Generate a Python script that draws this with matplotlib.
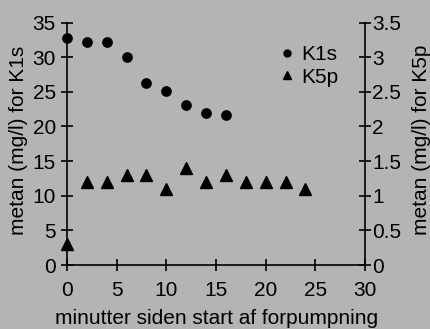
import numpy as np
import matplotlib
matplotlib.use("Agg")
import matplotlib.pyplot as plt
from matplotlib.lines import Line2D

plt.rcParams['font.family'] = ['Liberation Sans', 'DejaVu Sans']

# data
k1s_x = [0, 2, 4, 6, 8, 10, 12, 14, 16]
k1s_y = [32.8, 32.2, 32.2, 30.0, 26.3, 25.1, 23.1, 22.0, 21.7]
k5p_x = [0, 2, 4, 6, 8, 10, 12, 14, 16, 18, 20, 22, 24]
k5p_y = [0.3, 1.2, 1.2, 1.3, 1.3, 1.1, 1.4, 1.2, 1.3, 1.2, 1.2, 1.2, 1.1]

bg = '#b4b4b4'
fs = 15

fig = plt.figure(figsize=(4.3, 3.29), dpi=100, facecolor=bg)
ax = fig.add_axes([0.1558, 0.1945, 0.693, 0.737])
ax.set_facecolor(bg)
ax2 = ax.twinx()

ax.plot(k1s_x, k1s_y, 'o', color='black', markersize=6.7, clip_on=False)
ax2.plot(k5p_x, k5p_y, '^', color='black', markersize=8.2, clip_on=False)

ax.set_xlim(0, 30)
ax.set_ylim(0, 35)
ax2.set_ylim(0, 3.5)
ax.set_xticks(np.arange(0, 31, 5))
ax.set_yticks(np.arange(0, 36, 5))
ax2.set_yticks(np.arange(0, 3.6, 0.5))
ax2.set_yticklabels(['0', '0.5', '1', '1.5', '2', '2.5', '3', '3.5'])

for a in (ax, ax2):
    a.spines['top'].set_visible(False)
    for s in a.spines.values():
        s.set_linewidth(1.2)
ax.spines['right'].set_visible(False)
ax2.spines['left'].set_visible(False)
ax2.spines['bottom'].set_visible(False)

ax.tick_params(axis='x', direction='inout', length=8.6, width=1.2, labelsize=fs, pad=7.5)
ax.tick_params(axis='y', direction='inout', length=8, width=1.2, labelsize=fs, pad=4)
ax2.tick_params(axis='y', direction='inout', length=8, width=1.2, labelsize=fs, pad=1)

ax.set_xlabel('minutter siden start af forpumpning', fontsize=fs, va='center')
ax.xaxis.set_label_coords(0.502, -0.221)
ax.set_ylabel('metan (mg/l) for K1s', fontsize=fs, va='center')
ax.yaxis.set_label_coords(-0.162, 0.515)
ax2.set_ylabel('metan (mg/l) for K5p', fontsize=fs, va='center')
ax2.yaxis.set_label_coords(1.188, 0.515)

handles = [Line2D([], [], ls='none', marker='o', color='black', markersize=5),
           Line2D([], [], ls='none', marker='^', color='black', markersize=5.5)]
ax2.legend(handles, ['K1s', 'K5p'], loc='upper left', bbox_to_anchor=(0.684, 0.94),
           frameon=False, fontsize=fs, handletextpad=0.27, labelspacing=0.15,
           handlelength=0.8, borderaxespad=0)

fig.savefig('out.png', dpi=100, facecolor=bg)
